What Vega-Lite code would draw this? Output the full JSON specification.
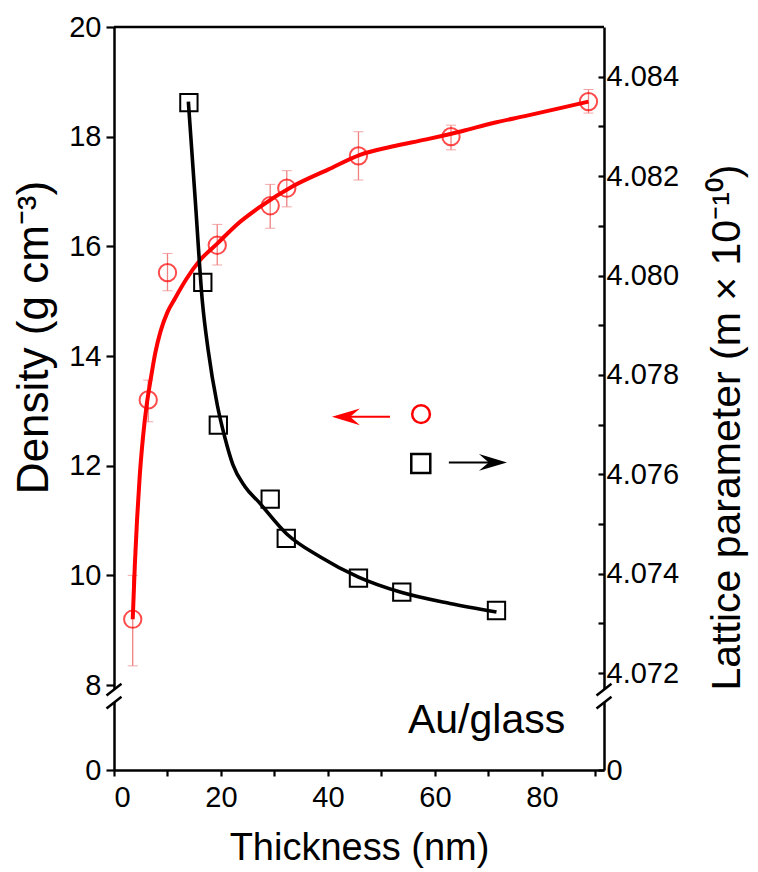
{
  "$schema": "https://vega.github.io/schema/vega-lite/v6.json",
  "width": 490,
  "height": 743,
  "autosize": {"type": "none"},
  "padding": {"left": 114, "top": 27, "right": 154, "bottom": 102},
  "background": "white",
  "config": {
    "font": "Liberation Sans",
    "view": {"stroke": null},
    "axis": {
      "grid": false,
      "domain": true,
      "domainColor": "black",
      "domainWidth": 2.5,
      "labelFont": "Liberation Sans",
      "labelFontSize": 29,
      "labelColor": "black",
      "tickColor": "black",
      "tickWidth": 2.2,
      "titleFont": "Liberation Sans",
      "titleFontWeight": "normal",
      "titleColor": "black",
      "titleFontSize": 37
    }
  },
  "datasets": {
    "red": [
      {"t": 3.5, "d": 9.2, "lo": 8.35, "hi": 10.0},
      {"t": 6.4, "d": 13.2, "lo": 12.8, "hi": 13.56},
      {"t": 10.0, "d": 15.52, "lo": 15.19, "hi": 15.87},
      {"t": 19.3, "d": 16.02, "lo": 15.66, "hi": 16.4},
      {"t": 29.2, "d": 16.74, "lo": 16.33, "hi": 17.13},
      {"t": 32.3, "d": 17.06, "lo": 16.72, "hi": 17.38},
      {"t": 45.7, "d": 17.65, "lo": 17.21, "hi": 18.09},
      {"t": 63.0, "d": 18.0, "lo": 17.76, "hi": 18.21},
      {"t": 88.7, "d": 18.64, "lo": 18.43, "hi": 18.86}
    ],
    "redfit": [
      {"t": 3.5, "d": 9.2}, {"t": 3.9, "d": 10.2}, {"t": 4.3, "d": 11.0},
      {"t": 4.8, "d": 11.8}, {"t": 5.4, "d": 12.5}, {"t": 6.1, "d": 13.1},
      {"t": 6.9, "d": 13.6}, {"t": 7.7, "d": 14.05}, {"t": 8.7, "d": 14.45},
      {"t": 10.0, "d": 14.8}, {"t": 11.4, "d": 15.05}, {"t": 13.5, "d": 15.4},
      {"t": 16.1, "d": 15.75}, {"t": 19.3, "d": 16.05}, {"t": 23.0, "d": 16.4},
      {"t": 27.3, "d": 16.72}, {"t": 33.5, "d": 17.1}, {"t": 40.0, "d": 17.4},
      {"t": 46.0, "d": 17.67}, {"t": 52.0, "d": 17.82}, {"t": 58.4, "d": 17.95},
      {"t": 65.0, "d": 18.1}, {"t": 70.9, "d": 18.25}, {"t": 77.0, "d": 18.38},
      {"t": 83.4, "d": 18.52}, {"t": 88.7, "d": 18.64}
    ],
    "black": [
      {"t": 14.0, "a": 4.08348},
      {"t": 16.6, "a": 4.07986},
      {"t": 19.5, "a": 4.07699},
      {"t": 29.2, "a": 4.0755},
      {"t": 32.2, "a": 4.07471},
      {"t": 45.7, "a": 4.07391},
      {"t": 53.8, "a": 4.07363},
      {"t": 71.5, "a": 4.07326}
    ],
    "blackfit": [
      {"t": 13.9, "a": 4.0835}, {"t": 15.2, "a": 4.0815}, {"t": 16.5, "a": 4.0795},
      {"t": 17.6, "a": 4.0785}, {"t": 19.3, "a": 4.0774}, {"t": 20.7, "a": 4.07675},
      {"t": 22.2, "a": 4.0762}, {"t": 24.5, "a": 4.07575}, {"t": 27.0, "a": 4.07545},
      {"t": 32.3, "a": 4.0748}, {"t": 38.5, "a": 4.07434}, {"t": 45.7, "a": 4.07393},
      {"t": 53.5, "a": 4.07363}, {"t": 62.8, "a": 4.0734}, {"t": 71.5, "a": 4.07323}
    ],
    "edges": [{"t": 0}, {"t": 91.6}],
    "one": [{}]
  },
  "layer": [
    {
      "layer": [
        {
          "data": {"name": "red"},
          "mark": {"type": "errorbar", "ticks": {"size": 10, "color": "#f08080", "strokeWidth": 1.3}, "rule": {"color": "#f08080", "strokeWidth": 1.3}},
          "encoding": {
            "x": {
              "field": "t", "type": "quantitative",
              "scale": {"domain": [0, 91.6], "nice": false, "zero": false},
              "axis": {
                "orient": "bottom",
                "values": [0, 10, 20, 30, 40, 50, 60, 70, 80, 90],
                "labelExpr": "datum.value % 20 == 0 ? datum.label : ''",
                "tickSize": 6,
                "labelPadding": 7,
                "title": "Thickness (nm)",
                "titleFontSize": 38,
                "titlePadding": 17
              }
            },
            "y": {
              "field": "lo", "type": "quantitative",
              "scale": {"domain": [0, 1.2, 7.9, 20], "range": [743, 677.2, 663.5, 0], "nice": false, "zero": false},
              "axis": {
                "orient": "left",
                "values": [0, 8, 10, 12, 14, 16, 18, 20],
                "tickSize": 8,
                "labelPadding": 5,
                "title": "Density (g cm⁻³)",
                "titleFontSize": 44,
                "titleX": -80,
                "titleY": 310,
                "titleAngle": 270,
                "titleAlign": "center",
                "titleBaseline": "middle"
              }
            },
            "y2": {"field": "hi"}
          }
        },
        {
          "data": {"name": "redfit"},
          "mark": {"type": "line", "color": "#ff0000", "strokeWidth": 4, "interpolate": "monotone"},
          "encoding": {
            "x": {"field": "t", "type": "quantitative"},
            "y": {"field": "d", "type": "quantitative"}
          }
        },
        {
          "data": {"name": "red"},
          "mark": {"type": "point", "shape": "circle", "size": 300, "filled": false, "color": "#ff0000", "strokeWidth": 2},
          "encoding": {
            "x": {"field": "t", "type": "quantitative"},
            "y": {"field": "d", "type": "quantitative"}
          }
        },
        {
          "data": {"name": "one"},
          "mark": {"type": "rule", "color": "black", "strokeWidth": 2.5},
          "encoding": {
            "x": {"datum": 0, "type": "quantitative"},
            "x2": {"datum": 91.6},
            "y": {"datum": 20, "type": "quantitative"}
          }
        },
        {
          "data": {"name": "edges"},
          "mark": {"type": "point", "shape": "M-0.6,-0.05L0.6,-0.99L0.6,0.05L-0.6,0.99Z", "size": 625, "filled": true, "fill": "white", "strokeWidth": 0, "opacity": 1},
          "encoding": {
            "x": {"field": "t", "type": "quantitative"},
            "y": {"datum": 5.2, "type": "quantitative"}
          }
        },
        {
          "data": {"name": "edges"},
          "mark": {"type": "point", "shape": "M-0.6,-0.05L0.6,-0.99M-0.6,0.99L0.6,0.05", "size": 625, "filled": false, "stroke": "black", "strokeWidth": 2.5, "opacity": 1},
          "encoding": {
            "x": {"field": "t", "type": "quantitative"},
            "y": {"datum": 5.2, "type": "quantitative"}
          }
        },
        {
          "data": {"name": "one"},
          "mark": {"type": "rule", "color": "#ff0000", "strokeWidth": 2},
          "encoding": {
            "x": {"datum": 43.5, "type": "quantitative"},
            "x2": {"datum": 51.6},
            "y": {"datum": 12.89, "type": "quantitative"}
          }
        },
        {
          "data": {"name": "one"},
          "mark": {"type": "point", "shape": "M-1,0L1,-0.6L0.3,0L1,0.6Z", "size": 784, "filled": true, "fill": "#ff0000", "strokeWidth": 0, "opacity": 1},
          "encoding": {
            "x": {"datum": 43.36, "type": "quantitative"},
            "y": {"datum": 12.89, "type": "quantitative"}
          }
        },
        {
          "data": {"name": "one"},
          "mark": {"type": "point", "shape": "circle", "size": 314, "filled": false, "color": "#ff0000", "strokeWidth": 2.5, "opacity": 1},
          "encoding": {
            "x": {"datum": 57.4, "type": "quantitative"},
            "y": {"datum": 12.94, "type": "quantitative"}
          }
        },
        {
          "data": {"name": "one"},
          "mark": {"type": "point", "shape": "square", "size": 361, "filled": false, "color": "black", "strokeWidth": 2.5, "opacity": 1},
          "encoding": {
            "x": {"datum": 57.35, "type": "quantitative"},
            "y": {"datum": 12.04, "type": "quantitative"}
          }
        },
        {
          "data": {"name": "one"},
          "mark": {"type": "rule", "color": "black", "strokeWidth": 2},
          "encoding": {
            "x": {"datum": 62.6, "type": "quantitative"},
            "x2": {"datum": 70.7},
            "y": {"datum": 12.06, "type": "quantitative"}
          }
        },
        {
          "data": {"name": "one"},
          "mark": {"type": "point", "shape": "M1,0L-1,-0.6L-0.3,0L-1,0.6Z", "size": 784, "filled": true, "fill": "black", "strokeWidth": 0, "opacity": 1},
          "encoding": {
            "x": {"datum": 70.84, "type": "quantitative"},
            "y": {"datum": 12.06, "type": "quantitative"}
          }
        },
        {
          "data": {"name": "one"},
          "mark": {"type": "text", "text": "Au/glass", "font": "Liberation Sans", "fontSize": 41, "align": "left", "baseline": "alphabetic", "color": "black"},
          "encoding": {
            "x": {"datum": 54.95, "type": "quantitative"},
            "y": {"datum": 0.675, "type": "quantitative"}
          }
        }
      ]
    },
    {
      "layer": [
        {
          "data": {"name": "blackfit"},
          "mark": {"type": "line", "color": "black", "strokeWidth": 3.6, "interpolate": "monotone"},
          "encoding": {
            "x": {"field": "t", "type": "quantitative"},
            "y": {
              "field": "a", "type": "quantitative",
              "scale": {"domain": [0, 1, 4.07165, 4.085], "range": [743, 677.2, 663.5, 0], "nice": false, "zero": false},
              "axis": {
                "orient": "right",
                "values": [0, 4.072, 4.073, 4.074, 4.075, 4.076, 4.077, 4.078, 4.079, 4.08, 4.081, 4.082, 4.083, 4.084],
                "labelExpr": "datum.value == 0 ? '0' : (round(datum.value * 1000) % 2 == 0 ? format(datum.value, '.3f') : '')",
                "tickSize": -6,
                "labelPadding": 8,
                "title": "Lattice parameter (m × 10⁻¹⁰)",
                "titleFontSize": 41,
                "titleAngle": 270,
                "titleX": 123,
                "titleY": 400,
                "titleAlign": "center",
                "titleBaseline": "middle"
              }
            }
          }
        },
        {
          "data": {"name": "black"},
          "mark": {"type": "point", "shape": "square", "size": 300, "filled": false, "color": "black", "strokeWidth": 2, "opacity": 1},
          "encoding": {
            "x": {"field": "t", "type": "quantitative"},
            "y": {"field": "a", "type": "quantitative"}
          }
        }
      ]
    }
  ],
  "resolve": {"scale": {"y": "independent"}}
}
